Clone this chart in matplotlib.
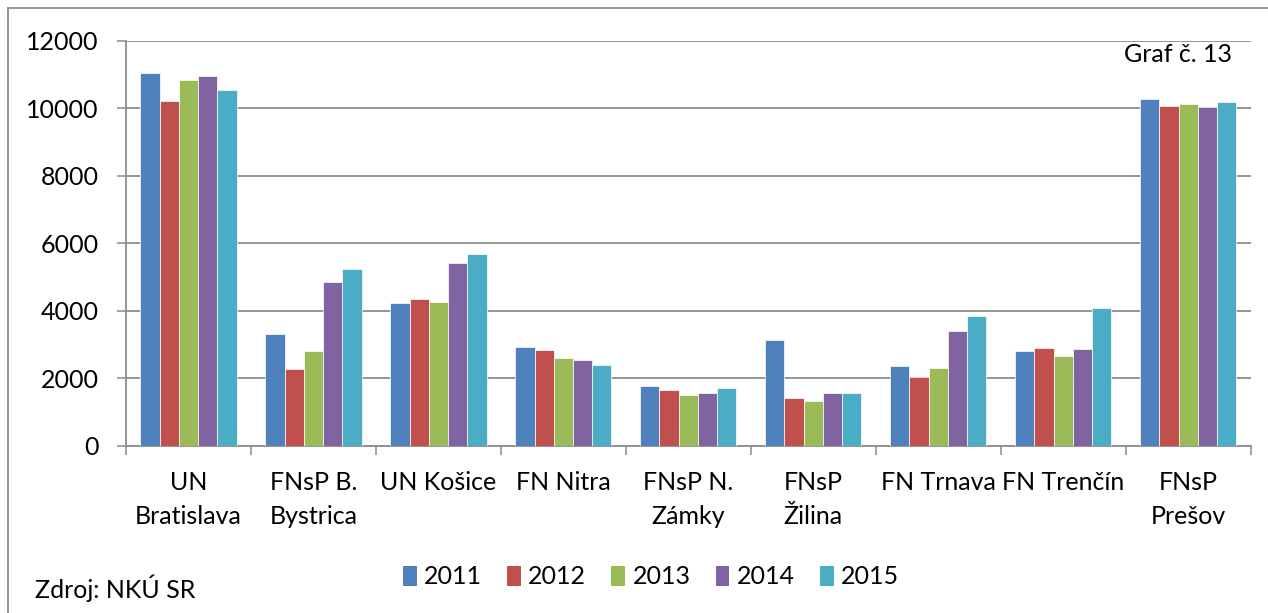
import numpy as np
import matplotlib
matplotlib.use("Agg")
import matplotlib.pyplot as plt
from matplotlib.lines import Line2D
from matplotlib.patches import Patch

plt.rcParams['font.family'] = ['Lato', 'DejaVu Sans']

# hospitals on the x axis
hospitals = ["UN\nBratislava", "FNsP B.\nBystrica", "UN Košice", "FN Nitra",
             "FNsP N.\nZámky", "FNsP\nŽilina", "FN Trnava", "FN Trenčín",
             "FNsP\nPrešov"]
years = ["2011", "2012", "2013", "2014", "2015"]

# values, one list per year
v2011 = [11040, 3300, 4230, 2920, 1760, 3130, 2370, 2800, 10260]
v2012 = [10210, 2260, 4330, 2820, 1650, 1410, 2040, 2880, 10060]
v2013 = [10840, 2810, 4250, 2590, 1510, 1330, 2290, 2650, 10120]
v2014 = [10960, 4850, 5420, 2530, 1560, 1550, 3400, 2860, 10030]
v2015 = [10550, 5230, 5680, 2390, 1700, 1550, 3830, 4070, 10170]
series = [v2011, v2012, v2013, v2014, v2015]

colors = ["#4F81BD", "#C0504D", "#9BBB59", "#8064A2", "#4BACC6"]
grid_col = "#8C8C8C"
fs = 18

fig = plt.figure(figsize=(12.68, 6.13), dpi=100)
ax = fig.add_axes([126 / 1268, 1 - 445.5 / 613, (1250.7 - 126) / 1268, (445.5 - 40.7) / 613])

x = np.arange(len(hospitals))
w = 0.154
for i, vals in enumerate(series):
    ax.bar(x + (i - 2) * w, vals, width=w, color=colors[i],
           edgecolor="white", linewidth=0.5, zorder=3, label=years[i])

ax.set_xlim(-0.5, len(hospitals) - 0.5)
ax.set_ylim(0, 12000)
ax.set_yticks(range(0, 12001, 2000))
ax.yaxis.grid(True, color=grid_col, linewidth=1.3, zorder=0)
ax.tick_params(axis="y", length=6.5, width=1.1, color=grid_col, pad=13, labelsize=fs)

# category boundaries get the tick marks, centres get the labels
ax.set_xticks(np.arange(-0.5, len(hospitals)), labels=[])
ax.set_xticks(x, labels=hospitals, minor=True, linespacing=1.62, va="top")
ax.tick_params(axis="x", which="major", length=6.5, width=1.1, color=grid_col)
ax.tick_params(axis="x", which="minor", length=0, pad=18, labelsize=fs)

for s in ["top", "right"]:
    ax.spines[s].set_visible(False)
for s in ["left", "bottom"]:
    ax.spines[s].set_color(grid_col)
    ax.spines[s].set_linewidth(1.3)

# outer chart frame
fig.add_artist(Line2D([8 / 1268, 8 / 1268], [-0.1, 1 - 8 / 613],
                      transform=fig.transFigure, color=grid_col, linewidth=1.3))
fig.add_artist(Line2D([8 / 1268, 1.1], [1 - 8 / 613, 1 - 8 / 613],
                      transform=fig.transFigure, color=grid_col, linewidth=1.3))

fig.text(1232 / 1268, 1 - 55 / 613, "Graf č. 13", ha="right", va="center", fontsize=fs)
fig.text(35 / 1268, 1 - 588 / 613, "Zdroj: NKÚ SR", ha="left", va="center", fontsize=fs)

handles = [Patch(facecolor=c, edgecolor="none") for c in colors]
fig.legend(handles, years, loc="center", bbox_to_anchor=(651 / 1268, 1 - 577 / 613),
           ncol=5, frameon=False, fontsize=fs, handlelength=0.55, handleheight=0.85,
           handletextpad=0.3, columnspacing=1.0)

fig.savefig("out.png", dpi=100)
